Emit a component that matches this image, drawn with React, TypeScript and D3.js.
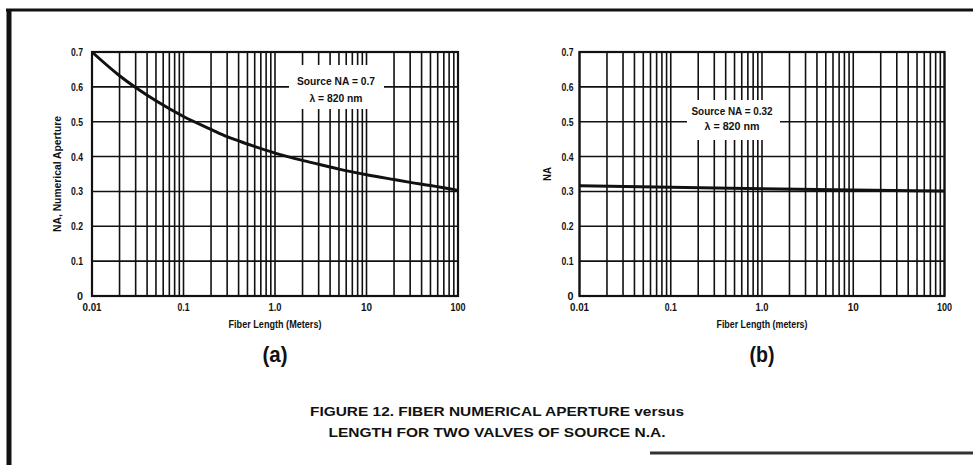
import React, { useEffect, useRef } from "react";
import * as d3 from "d3";

// fiber length (m) and numerical aperture
const lengthsA = [0.01, 0.02, 0.03, 0.05, 0.1, 0.2, 0.3, 0.5, 1, 2, 3, 5, 10, 20, 30, 50, 100];
const naA = [0.7, 0.632, 0.598, 0.56, 0.515, 0.478, 0.457, 0.436, 0.41, 0.389, 0.378, 0.364, 0.348, 0.334, 0.326, 0.317, 0.303];
const lengthsB = [0.01, 0.1, 1, 10, 100];
const naB = [0.316, 0.312, 0.308, 0.304, 0.301];

const xTickValues = [0.01, 0.1, 1, 10, 100];
const xTickLabels = ["0.01", "0.1", "1.0", "10", "100"];
const yTickValues = [0, 0.1, 0.2, 0.3, 0.4, 0.5, 0.6, 0.7];
const yTickLabels = ["0", "0.1", "0.2", "0.3", "0.4", "0.5", "0.6", "0.7"];

const captionLines = [
  "FIGURE 12. FIBER NUMERICAL APERTURE versus",
  "LENGTH FOR TWO VALVES OF SOURCE N.A.",
];

const panels = [
  {
    key: "a",
    left: 92, right: 458, top: 52, bottom: 296,
    lengths: lengthsA, na: naA,
    yTitle: "NA, Numerical Aperture", yTitleX: 61, yTitleW: 116,
    xTitle: "Fiber Length (Meters)", xTitleW: 93,
    note: ["Source NA  =  0.7", "\u03bb = 820 nm"], noteW: [78, 53],
    noteX: 336, noteY: [85, 102],
    box: { x: 289, y: 65, w: 95, h: 44 },
    tag: "(a)",
  },
  {
    key: "b",
    left: 579.5, right: 944.5, top: 52, bottom: 296,
    lengths: lengthsB, na: naB,
    yTitle: "NA", yTitleX: 551, yTitleW: 14,
    xTitle: "Fiber Length (meters)", xTitleW: 91,
    note: ["Source NA  =  0.32", "\u03bb = 820 nm"], noteW: [81, 55],
    noteX: 732, noteY: [115, 130],
    box: { x: 687, y: 100, w: 93, h: 40 },
    tag: "(b)",
  },
];

const FONT = "'Liberation Sans', Arial, sans-serif";

const App: React.FC = () => {
  const ref = useRef<SVGSVGElement | null>(null);

  useEffect(() => {
    if (!ref.current) return;
    const svg = d3.select(ref.current);
    svg.selectAll("*").remove();

    svg.append("rect").attr("width", 973).attr("height", 465).attr("fill", "#fff");

    // page frame
    svg.append("line").attr("x1", 6).attr("x2", 973).attr("y1", 10).attr("y2", 10)
      .attr("stroke", "#111").attr("stroke-width", 3);
    svg.append("line").attr("x1", 9).attr("x2", 9).attr("y1", 9).attr("y2", 465)
      .attr("stroke", "#111").attr("stroke-width", 5);
    svg.append("line").attr("x1", 650).attr("x2", 973).attr("y1", 453).attr("y2", 453)
      .attr("stroke", "#333").attr("stroke-width", 3);

    // minor grid values 1..9 per decade
    const gridX: number[] = [];
    for (let e = -2; e < 2; e++) {
      for (let k = 1; k <= 9; k++) gridX.push(k * Math.pow(10, e));
    }
    gridX.push(100);

    panels.forEach((p) => {
      const x = d3.scaleLog().domain([0.01, 100]).range([p.left, p.right]);
      const y = d3.scaleLinear().domain([0, 0.7]).range([p.bottom, p.top]);
      const g = svg.append("g");

      g.selectAll("line.v").data(gridX).enter().append("line")
        .attr("x1", (d) => x(d)).attr("x2", (d) => x(d))
        .attr("y1", p.top).attr("y2", p.bottom)
        .attr("stroke", "#111").attr("stroke-width", 1.6);

      g.selectAll("line.h").data(yTickValues).enter().append("line")
        .attr("x1", p.left).attr("x2", p.right)
        .attr("y1", (d) => y(d)).attr("y2", (d) => y(d))
        .attr("stroke", "#111").attr("stroke-width", 1.6);

      g.append("rect")
        .attr("x", p.left).attr("y", p.top)
        .attr("width", p.right - p.left).attr("height", p.bottom - p.top)
        .attr("fill", "none").attr("stroke", "#111").attr("stroke-width", 2.2);

      // annotation box covering the grid
      g.append("rect")
        .attr("x", p.box.x).attr("y", p.box.y)
        .attr("width", p.box.w).attr("height", p.box.h).attr("fill", "#fff");
      p.note.forEach((t, i) => {
        g.append("text")
          .attr("x", p.noteX).attr("y", p.noteY[i])
          .attr("text-anchor", "middle")
          .attr("font-family", FONT).attr("font-weight", "bold").attr("font-size", 11.5)
          .attr("textLength", p.noteW[i]).attr("lengthAdjust", "spacingAndGlyphs")
          .attr("fill", "#111")
          .text(t);
      });

      const line = d3.line<number>()
        .x((_, i) => x(p.lengths[i]))
        .y((d) => y(d))
        .curve(d3.curveMonotoneX);
      g.append("path")
        .datum(p.na)
        .attr("d", line)
        .attr("fill", "none")
        .attr("stroke", "#111")
        .attr("stroke-width", 3);

      // y ticks
      g.selectAll("text.yt").data(yTickValues).enter().append("text")
        .attr("x", p.left - (p.key === "a" ? 9 : 6))
        .attr("y", (d) => y(d) + 4)
        .attr("text-anchor", "end")
        .attr("font-family", FONT).attr("font-weight", "bold").attr("font-size", 11)
        .attr("textLength", (_, i) => yTickLabels[i].length === 1 ? 6 : 12)
        .attr("lengthAdjust", "spacingAndGlyphs")
        .attr("fill", "#111")
        .text((_, i) => yTickLabels[i]);

      // x ticks
      g.selectAll("text.xt").data(xTickValues).enter().append("text")
        .attr("x", (d) => x(d))
        .attr("y", 311)
        .attr("text-anchor", "middle")
        .attr("font-family", FONT).attr("font-weight", "bold").attr("font-size", 11)
        .attr("textLength", (_, i) => [19, 12, 13, 11, 15][i])
        .attr("lengthAdjust", "spacingAndGlyphs")
        .attr("fill", "#111")
        .text((_, i) => xTickLabels[i]);

      const mid = (p.left + p.right) / 2;
      g.append("text")
        .attr("x", mid).attr("y", 328)
        .attr("text-anchor", "middle")
        .attr("font-family", FONT).attr("font-weight", "bold").attr("font-size", 10.5)
        .attr("textLength", p.xTitleW).attr("lengthAdjust", "spacingAndGlyphs")
        .attr("fill", "#111")
        .text(p.xTitle);

      g.append("text")
        .attr("transform", `translate(${p.yTitleX},${(p.top + p.bottom) / 2}) rotate(-90)`)
        .attr("text-anchor", "middle")
        .attr("font-family", FONT).attr("font-weight", "bold").attr("font-size", 10.5)
        .attr("textLength", p.yTitleW).attr("lengthAdjust", "spacingAndGlyphs")
        .attr("fill", "#111")
        .text(p.yTitle);

      g.append("text")
        .attr("x", mid).attr("y", 362)
        .attr("text-anchor", "middle")
        .attr("font-family", FONT).attr("font-weight", "bold").attr("font-size", 22)
        .attr("textLength", 25).attr("lengthAdjust", "spacingAndGlyphs")
        .attr("fill", "#111")
        .text(p.tag);
    });

    captionLines.forEach((t, i) => {
      svg.append("text")
        .attr("x", 497).attr("y", 416 + i * 21)
        .attr("text-anchor", "middle")
        .attr("font-family", FONT).attr("font-weight", "bold").attr("font-size", 13)
        .attr("textLength", i === 0 ? 374 : 337).attr("lengthAdjust", "spacingAndGlyphs")
        .attr("fill", "#111")
        .text(t);
    });
  }, []);

  return (
    <svg
      ref={ref}
      width={973}
      height={465}
      style={{ position: "absolute", left: 0, top: 0, display: "block" }}
    />
  );
};

export default App;
